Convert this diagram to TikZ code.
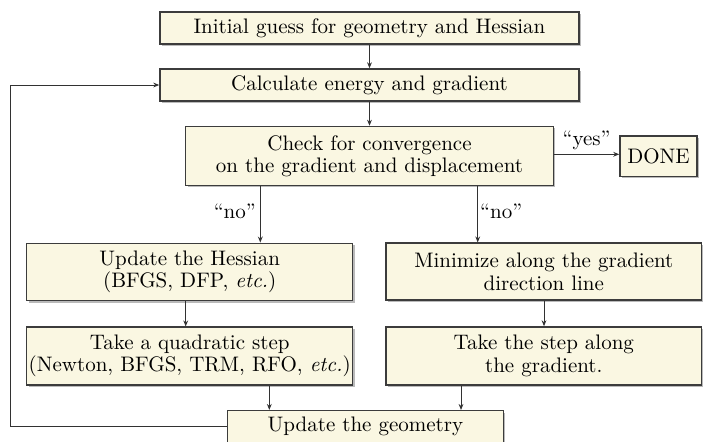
\documentclass[tikz,border=0pt]{standalone}
\usetikzlibrary{arrows.meta,shadows,calc}
\definecolor{boxfill}{RGB}{250,247,226}
\definecolor{boxline}{RGB}{60,60,60}
\definecolor{lineclr}{RGB}{50,50,50}
\tikzset{
  box/.style={draw=boxline, line width=0.75pt, fill=boxfill, inner sep=0pt,
    align=center, font=\fontsize{10.5}{11.2}\selectfont,
    drop shadow={shadow xshift=0.9pt, shadow yshift=-0.9pt, fill=black!45, opacity=0.6}},
  conn/.style={draw=lineclr, line width=0.5pt, -{Stealth[length=3pt,width=2.4pt]}},
  lbl/.style={font=\fontsize{10.5}{11.2}\selectfont, inner sep=0pt}
}
\begin{document}
\begin{tikzpicture}[x=0.5pt,y=-0.5pt]
\useasboundingbox (0,0) rectangle (704,441);
\node[box, minimum width=209.5pt, minimum height=16.2pt] (init) at (369.5,28) {Initial guess for geometry and Hessian};
\node[box, minimum width=209.5pt, minimum height=16pt] (calc) at (369.5,85) {Calculate energy and gradient};
\node[box, minimum width=183.8pt, minimum height=29.5pt] (check) at (369.5,156) {Check for convergence\\on the gradient and displacement};
\node[box, minimum width=38.5pt, minimum height=20.3pt] (done) at (658.5,156.3) {DONE};
\node[box, minimum width=163pt, minimum height=28.7pt] (hess) at (189.7,272) {Update the Hessian\\(BFGS, DFP, \textit{etc.})};
\node[box, minimum width=157.8pt, minimum height=28.5pt] (mini) at (543.8,271.7) {Minimize along the gradient\\direction line};
\node[box, minimum width=163pt, minimum height=28.8pt] (quad) at (189.7,356) {Take a quadratic step\\(Newton, BFGS, TRM, RFO, \textit{etc.})};
\node[box, minimum width=157.8pt, minimum height=29pt] (step) at (543.8,356) {Take the step along\\the gradient.};
\node[box, minimum width=138pt, minimum height=16pt] (upd) at (365.4,426.7) {Update the geometry};

\coordinate (xno1) at (260.3,0);
\coordinate (xno2) at (477.7,0);
\coordinate (xhq) at (185.7,0);
\coordinate (xms) at (544,0);
\coordinate (xqu) at (269.3,0);
\coordinate (xsu) at (461,0);
\coordinate (yes) at (0,154.3);
\coordinate (fb) at (10,0);

\draw[conn] (init) -- (calc);
\draw[conn] (calc) -- (check);
\draw[conn] (check.east |- yes) -- (done.west |- yes) node[lbl, midway, above=2pt] {``yes''};
\draw[conn] (check.south -| xno1) -- (hess.north -| xno1) node[lbl, pos=0.45, left=2pt] {``no''};
\draw[conn] (check.south -| xno2) -- (mini.north -| xno2) node[lbl, pos=0.45, right=1pt] {``no''};
\draw[conn] (hess.south -| xhq) -- (quad.north -| xhq);
\draw[conn] (mini.south -| xms) -- (step.north -| xms);
\draw[conn] (quad.south -| xqu) -- (upd.north -| xqu);
\draw[conn] (step.south -| xsu) -- (upd.north -| xsu);
\draw[conn] (upd.west) -- (upd.west -| fb) |- (calc.west);
\end{tikzpicture}
\end{document}
